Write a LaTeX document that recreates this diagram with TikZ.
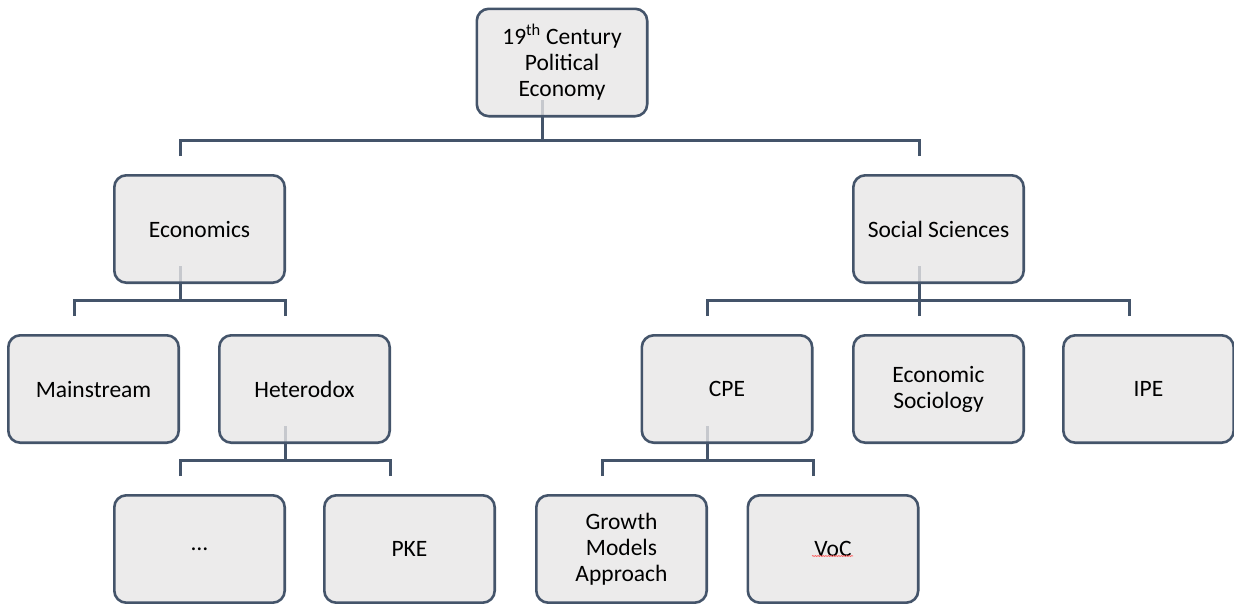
\documentclass[tikz,border=0pt]{standalone}
\usepackage{fontspec}
\setmainfont{Carlito}
\usetikzlibrary{positioning,backgrounds,decorations.pathmorphing}
\definecolor{slate}{HTML}{44546A}
\definecolor{boxfill}{HTML}{E7E6E6}

\begin{document}
\begin{tikzpicture}[x=1pt,y=1pt,
  unit/.style={draw=slate,line width=2.6pt,fill=boxfill,fill opacity=0.8,text opacity=1,
    rounded corners=12pt,minimum width=170.4pt,minimum height=107.4pt,align=center,
    font=\fontsize{23.5}{26}\selectfont},
  link/.style={draw=slate,line width=3pt},
  spell/.style={draw=red!65,line width=0.7pt,decorate,
    decoration={snake,amplitude=0.5pt,segment length=2.6pt}}]
  \useasboundingbox (0,0) rectangle (1234,-603);
  \node[unit] (root) at (562,-62.5) {19\textsuperscript{th} Century\\Political\\Economy};
  \node[unit] (econ) at (199.5,-229) {Economics};
  \node[unit] (soc) at (938.5,-229) {Social Sciences};
  \node[unit] (main) at (93.5,-389) {Mainstream};
  \node[unit] (het) at (304.5,-389) {Heterodox};
  \node[unit] (cpe) at (727,-389) {CPE};
  \node[unit] (esoc) at (938.5,-389) {Economic\\Sociology};
  \node[unit] (ipe) at (1148.5,-389) {IPE};
  \node[unit] (dots) at (199.5,-549) {…};
  \node[unit] (pke) at (409.5,-549) {PKE};
  \node[unit] (grow) at (621.5,-549) {Growth\\Models\\Approach};
  \node[unit] (voc) at (833,-549) {VoC};
  \draw[spell] ([xshift=-21pt,yshift=-7pt]voc.center) -- ([xshift=20pt,yshift=-7pt]voc.center);
  \begin{scope}[on background layer]
  \draw[link] ([xshift=-19.5pt,yshift=18pt]econ.north) -- ++(0,16) -| ([xshift=-19.5pt,yshift=18pt]root.south);
  \draw[link] ([xshift=-19.5pt,yshift=18pt]soc.north) -- ++(0,16) -| ([xshift=-19.5pt,yshift=18pt]root.south);
  \draw[link] ([xshift=-19.5pt,yshift=18pt]main.north) -- ++(0,16) -| ([xshift=-19.5pt,yshift=18pt]econ.south);
  \draw[link] ([xshift=-19.5pt,yshift=18pt]het.north) -- ++(0,16) -| ([xshift=-19.5pt,yshift=18pt]econ.south);
  \draw[link] ([xshift=-19.5pt,yshift=18pt]dots.north) -- ++(0,16) -| ([xshift=-19.5pt,yshift=18pt]het.south);
  \draw[link] ([xshift=-19.5pt,yshift=18pt]pke.north) -- ++(0,16) -| ([xshift=-19.5pt,yshift=18pt]het.south);
  \draw[link] ([xshift=-19.5pt,yshift=18pt]cpe.north) -- ++(0,16) -| ([xshift=-19.5pt,yshift=18pt]soc.south);
  \draw[link] ([xshift=-19.5pt,yshift=18pt]esoc.north) -- ++(0,16) -| ([xshift=-19.5pt,yshift=18pt]soc.south);
  \draw[link] ([xshift=-19.5pt,yshift=18pt]ipe.north) -- ++(0,16) -| ([xshift=-19.5pt,yshift=18pt]soc.south);
  \draw[link] ([xshift=-19.5pt,yshift=18pt]grow.north) -- ++(0,16) -| ([xshift=-19.5pt,yshift=18pt]cpe.south);
  \draw[link] ([xshift=-19.5pt,yshift=18pt]voc.north) -- ++(0,16) -| ([xshift=-19.5pt,yshift=18pt]cpe.south);
  \end{scope}
\end{tikzpicture}
\end{document}
